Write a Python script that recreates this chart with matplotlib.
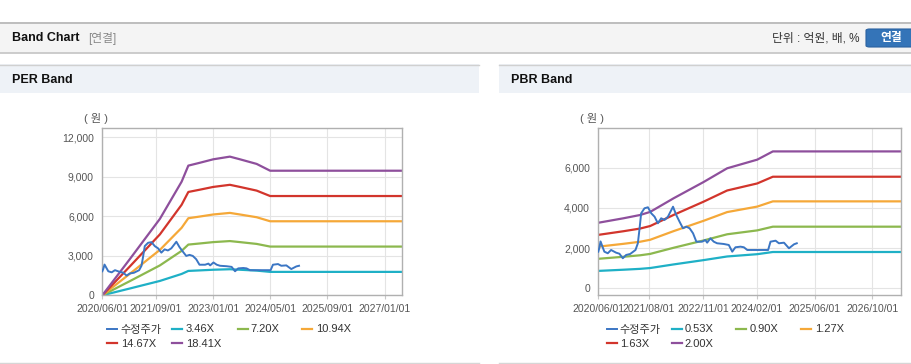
import pandas as pd
import matplotlib
matplotlib.use('Agg')
import matplotlib.pyplot as plt
from matplotlib.patches import Rectangle, FancyBboxPatch
from matplotlib.lines import Line2D

plt.rcParams['font.family'] = ['Liberation Sans', 'Noto Sans CJK KR']

# ==================== Data ====================
price_dates = ['2020-06-01', '2020-06-09', '2020-06-20', '2020-07-22', '2020-08-20', '2020-09-17',
               '2020-10-29', '2020-11-26', '2020-12-25', '2021-01-22', '2021-02-25', '2021-04-11',
               '2021-05-01', '2021-05-14', '2021-05-29', '2021-06-26', '2021-07-25', '2021-08-22',
               '2021-09-19', '2021-10-17', '2021-11-14', '2021-12-12', '2022-01-10', '2022-02-22',
               '2022-03-21', '2022-04-18', '2022-05-17', '2022-06-14', '2022-07-12', '2022-08-10',
               '2022-09-07', '2022-10-25', '2022-11-22', '2022-12-07', '2023-01-04', '2023-02-01',
               '2023-03-01', '2023-04-26', '2023-06-08', '2023-07-07', '2023-08-03', '2023-09-15',
               '2023-10-13', '2023-11-11', '2024-02-03', '2024-05-05', '2024-05-25', '2024-07-07',
               '2024-08-04', '2024-09-16', '2024-10-28', '2024-12-10', '2025-01-02']
price = [1821, 1990, 2330, 1821, 1741, 1905,
         1771, 1720, 1493, 1657, 1706, 1905,
         2239, 2900, 3731, 3980, 4030, 3731,
         3562, 3234, 3483, 3398, 3562, 4060,
         3647, 3313, 2985, 3065, 2985, 2736,
         2318, 2318, 2403, 2268, 2488, 2318,
         2239, 2204, 2154, 1821, 2040, 2070,
         2040, 1905, 1905, 1905, 2318, 2368,
         2239, 2268, 1990, 2189, 2239]

eps_dates = ['2020-06-01', '2021-01-23', '2021-10-05', '2022-04-08', '2022-06-04', '2022-09-12',
             '2023-01-02', '2023-05-24', '2023-08-18', '2024-01-07', '2024-05-01', '2027-06-01']
eps = [0, 150, 315, 468, 534, 546, 560, 571, 560, 541, 513, 513]
per_multiples = [3.46, 7.20, 10.94, 14.67, 18.41]

bps_dates = ['2020-06-01', '2020-12-30', '2021-05-20', '2021-08-13', '2022-02-27', '2022-11-08',
             '2023-05-25', '2024-02-03', '2024-06-14', '2027-06-01']
bps = [1630, 1741, 1823, 1900, 2239, 2645, 2985, 3200, 3405, 3405]
pbr_multiples = [0.53, 0.90, 1.27, 1.63, 2.00]

per_xticks = ['2020/06/01', '2021/09/01', '2023/01/01', '2024/05/01', '2025/09/01', '2027/01/01']
pbr_xticks = ['2020/06/01', '2021/08/01', '2022/11/01', '2024/02/01', '2025/06/01', '2026/10/01']
per_yticks = [0, 3000, 6000, 9000, 12000]
pbr_yticks = [0, 2000, 4000, 6000]

# ==================== Style ====================
W, H = 912, 364
price_color = '#3b76c4'
band_colors = ['#1fb0c6', '#8cb84e', '#f5a838', '#d2352c', '#8e4f9c']


def fx(x):
    return x / W


def fy(y):
    return 1 - y / H


fig = plt.figure(figsize=(W / 100, H / 100), dpi=100)
fig.patch.set_facecolor('white')

# header bar
fig.add_artist(Rectangle((0, fy(53)), 1, fy(22) - fy(53), transform=fig.transFigure,
                         facecolor='#f4f4f4', edgecolor='none'))
fig.add_artist(Line2D([0, 1], [fy(22.5), fy(22.5)], transform=fig.transFigure, color='#b4b4b4', lw=1.2))
fig.add_artist(Line2D([0, 1], [fy(53), fy(53)], transform=fig.transFigure, color='#c4c4c4', lw=1.2))
fig.text(fx(12), fy(38), 'Band Chart', fontsize=9, fontweight='bold', color='#111', va='center')
fig.text(fx(88), fy(38.5), '[연결]', fontsize=8.5, color='#888', va='center')
fig.text(fx(860), fy(38.5), '단위 : 억원, 배, %', fontsize=8.5, color='#333', va='center', ha='right')
fig.add_artist(FancyBboxPatch((fx(866), fy(47)), fx(60), fy(29) - fy(47), transform=fig.transFigure,
                              boxstyle='round,pad=0,rounding_size=0.004',
                              facecolor='#3474b8', edgecolor='#2b62a0', lw=0.8))
fig.text(fx(891), fy(38.5), '연결', fontsize=8.5, fontweight='bold', color='white', va='center', ha='center')

# section bars
for x0, x1, title in [(0, 479, 'PER Band'), (499, 912, 'PBR Band')]:
    fig.add_artist(Rectangle((fx(x0), fy(93)), fx(x1 - x0), fy(64) - fy(93), transform=fig.transFigure,
                             facecolor='#eef2f7', edgecolor='none'))
    fig.add_artist(Line2D([fx(x0), fx(x1)], [fy(64.5), fy(64.5)], transform=fig.transFigure,
                          color='#d0d0d0', lw=1))
    fig.add_artist(Line2D([fx(x0), fx(x1)], [fy(362.5), fy(362.5)], transform=fig.transFigure,
                          color='#d6d6d6', lw=1))
    fig.text(fx(x0 + 12), fy(80), title, fontsize=9, fontweight='bold', color='#111', va='center')


def band_chart(rect, base_dates, base, multiples, xticks, yticks, ylim, legend_x):
    ax = fig.add_axes(rect)
    bd = pd.to_datetime(base_dates)
    handles = []
    for m, c in zip(multiples, band_colors):
        line, = ax.plot(bd, [m * v for v in base], color=c, lw=1.6, label=f'{m:.2f}X')
        handles.append(line)
    p, = ax.plot(pd.to_datetime(price_dates), price, color=price_color, lw=1.4, label='수정주가', zorder=5)
    handles = [p] + handles

    ax.set_xlim(pd.Timestamp('2020-06-01'), pd.Timestamp('2027-06-01'))
    ax.set_ylim(*ylim)
    ax.set_xticks(pd.to_datetime(xticks))
    ax.set_xticklabels(xticks)
    ax.set_yticks(yticks)
    ax.set_yticklabels([f'{v:,}' for v in yticks])
    ax.grid(True, color='#e4e4e4', lw=0.8)
    ax.set_axisbelow(True)
    for s in ax.spines.values():
        s.set_color('#b0b0b0')
        s.set_linewidth(1)
    ax.tick_params(axis='x', length=3, color='#c8c8c8', labelsize=7.5, labelcolor='#555', pad=3)
    ax.tick_params(axis='y', length=0, labelsize=7.5, labelcolor='#555', pad=6)
    ax.text(-0.02, 1.06, '( 원 )', transform=ax.transAxes, fontsize=8, color='#555',
            ha='center', va='center')

    # legend: four fixed columns
    cols = [[handles[0], handles[4]], [handles[1], handles[5]], [handles[2]], [handles[3]]]
    for i, hs in enumerate(cols):
        leg = fig.legend(handles=hs, loc='upper left', bbox_to_anchor=(fx(legend_x + 65 * i), fy(324.5)),
                         frameon=False, fontsize=8, handlelength=0.9, handletextpad=0.3,
                         labelspacing=0.4, borderpad=0, borderaxespad=0)
        for t in leg.get_texts():
            t.set_color('#333')
    return ax


band_chart([fx(102.3), fy(295.3), fx(300), fy(128.3) - fy(295.3)], eps_dates, eps, per_multiples,
           per_xticks, per_yticks, (0, 12660), 107.5)
band_chart([fx(598.3), fy(295.3), fx(302.7), fy(128.3) - fy(295.3)], bps_dates, bps, pbr_multiples,
           pbr_xticks, pbr_yticks, (-350, 7960), 606.5)

fig.savefig('out.png', dpi=100)
